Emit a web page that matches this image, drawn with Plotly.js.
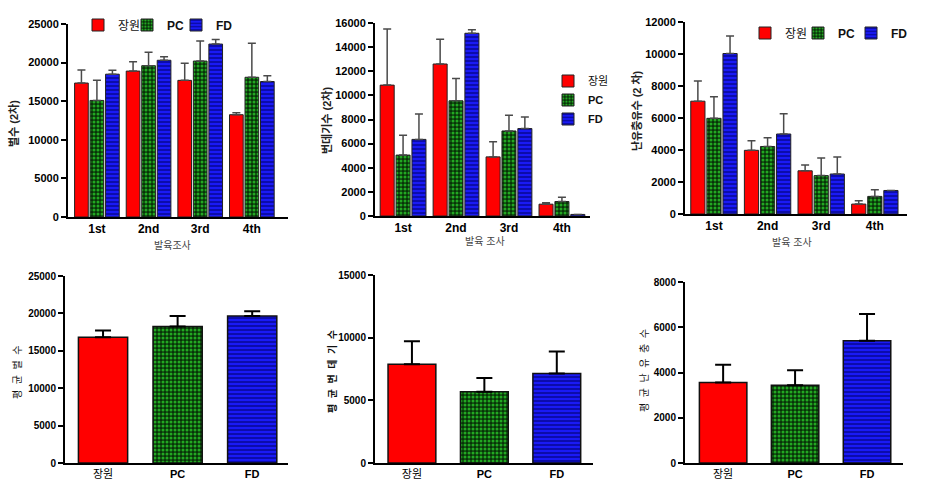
<!DOCTYPE html>
<html>
<head>
<meta charset="utf-8">
<script src="https://cdn.plot.ly/plotly-3.0.1.min.js"></script>
<style>html,body{margin:0;padding:0;background:#fff}#chart{width:940px;height:490px}</style>
</head>
<body>
<div id="chart"></div>
<script>
// ---------- data ----------
const rounds = ['1st', '2nd', '3rd', '4th'];
const groups = ['장원', 'PC', 'FD'];

// 벌수 (2차)
const beesJangwon = [17350, 18900, 17700, 13250];
const beesPC      = [15100, 19600, 20200, 18100];
const beesFD      = [18500, 20300, 22400, 17550];
const beesJangwonSD = [1700, 1200, 2200, 250];
const beesPCSD      = [2600, 1750, 2600, 4400];
const beesFDSD      = [500, 450, 600, 750];

// 번데기수 (2차)
const pupaeJangwon = [10850, 12600, 4900, 980];
const pupaePC      = [5050, 9550, 7050, 1200];
const pupaeFD      = [6350, 15150, 7250, 130];
const pupaeJangwonSD = [4650, 2050, 1250, 120];
const pupaePCSD      = [1650, 1850, 1300, 350];
const pupaeFDSD      = [2100, 300, 950, 0];

// 난유충유수 (2 차)
const broodJangwon = [7050, 3980, 2700, 620];
const broodPC      = [5980, 4220, 2400, 1100];
const broodFD      = [10030, 5000, 2500, 1470];
const broodJangwonSD = [1270, 600, 370, 210];
const broodPCSD      = [1350, 550, 1100, 420];
const broodFDSD      = [1090, 1270, 1060, 0];

// 평균 (장원, PC, FD)
const meanBees   = [16800, 18250, 19650];
const meanBeesSD = [900, 1400, 650];
const meanPupae   = [7870, 5680, 7150];
const meanPupaeSD = [1850, 1100, 1750];
const meanBrood   = [3560, 3440, 5400];
const meanBroodSD = [780, 660, 1190];

// ---------- styles ----------
const FONT = 'Liberation Sans, Arial, Noto Sans CJK KR, sans-serif';
const style = {
  '장원': {color: '#ff0000', pattern: null},
  'PC':   {color: '#0b3d0b', pattern: {shape: '.', bgcolor: '#083208', fgcolor: '#22a822', size: 4, solidity: 0.45}},
  'FD':   {color: '#1515f0', pattern: {shape: '-', bgcolor: '#1a1af5', fgcolor: '#000070', size: 4, solidity: 0.28}}
};
const label = g => g === '장원' ? g : '<b>' + g + '</b>';

const traces = [];
const slot = 0.3, bw = 0.265;
function grouped(series, sds, xa, ya, legendId, spacer) {
  groups.forEach((g, i) => {
    const s = style[g];
    const marker = {color: s.color, line: {color: '#222', width: 1}};
    if (s.pattern) marker.pattern = s.pattern;
    traces.push({
      type: 'bar', x: rounds, y: series[i], name: label(g),
      xaxis: xa, yaxis: ya, legend: legendId, showlegend: true,
      width: bw, offset: (i - 1) * slot - bw / 2,
      marker: marker,
      error_y: {type: 'data', symmetric: false, array: sds[i], arrayminus: sds[i].map(() => 0),
                color: '#4a4a4a', thickness: 1.5, width: 4}
    });
  });
  if (spacer) {
    // invisible legend entry that only widens the legend box so the last label is not clipped
    traces.push({type: 'bar', x: [rounds[0]], y: [0], name: ' ', xaxis: xa, yaxis: ya,
      legend: legendId, showlegend: true, width: 0.001, offset: 0, hoverinfo: 'skip',
      marker: {color: 'rgba(0,0,0,0)', line: {width: 0}}});
  }
}
grouped([beesJangwon, beesPC, beesFD], [beesJangwonSD, beesPCSD, beesFDSD], 'x', 'y', 'legend', true);
grouped([pupaeJangwon, pupaePC, pupaeFD], [pupaeJangwonSD, pupaePCSD, pupaeFDSD], 'x2', 'y2', 'legend2', false);
grouped([broodJangwon, broodPC, broodFD], [broodJangwonSD, broodPCSD, broodFDSD], 'x3', 'y3', 'legend3', true);

function single(vals, sds, xa, ya) {
  groups.forEach((g, i) => {
    const s = style[g];
    const marker = {color: s.color, line: {color: '#111', width: 1.5}};
    if (s.pattern) marker.pattern = s.pattern;
    traces.push({
      type: 'bar', x: [g], y: [vals[i]], xaxis: xa, yaxis: ya, showlegend: false,
      width: 0.66, offset: -0.33, marker: marker,
      error_y: {type: 'data', symmetric: false, array: [sds[i]], arrayminus: [0],
                color: '#000', thickness: 2, width: 8}
    });
  });
}
single(meanBees, meanBeesSD, 'x4', 'y4');
single(meanPupae, meanPupaeSD, 'x5', 'y5');
single(meanBrood, meanBroodSD, 'x6', 'y6');

// ---------- axes ----------
const W = 940, H = 490;
const xd = (a, b) => [a / W, b / W];
const yd = (top, bot) => [1 - bot / H, 1 - top / H];
function xax(dom, range, anchor, cats, ticktext) {
  return {domain: dom, range: range, anchor: anchor, type: 'category',
    categoryorder: 'array', categoryarray: cats,
    showline: true, linecolor: '#000', linewidth: 2, ticks: '', showgrid: false, zeroline: false,
    tickmode: 'array', tickvals: cats, ticktext: ticktext || cats,
    tickfont: {family: FONT, size: ticktext ? 11 : 12, color: '#000', weight: ticktext ? 'normal' : 'bold'}, fixedrange: true};
}
function yax(dom, max, dtick, anchor, fs) {
  return {domain: dom, range: [0, max], anchor: anchor, dtick: dtick, tickformat: 'd',
    showline: true, linecolor: '#000', linewidth: 2, ticks: 'outside', ticklen: 5, tickwidth: 2,
    tickcolor: '#000', showgrid: false, zeroline: false,
    tickfont: {family: FONT, size: fs || 11, color: '#000', weight: 'bold'}, fixedrange: true};
}
const bottomText = groups.map(label);

const ann = [];
function txt(x, y, text, opts) {
  ann.push(Object.assign({xref: 'paper', yref: 'paper', x: x / W, y: 1 - y / H, text: text,
    showarrow: false, xanchor: 'center', yanchor: 'middle',
    font: {family: FONT, size: 11, color: '#222'}}, opts || {}));
}
const yFont = {family: FONT, size: 10, color: '#111'};
txt(14, 124, '<b>벌수 (2차)</b>', {textangle: -90});
txt(327, 121, '<b>번데기수 (2차)</b>', {textangle: -90});
txt(637, 111, '<b>난유충유수 (2 차)</b>', {textangle: -90});
txt(17, 373, '평  균  벌  수', {textangle: -90, font: yFont});
txt(332, 372, '<b>평  균  번  데  기  수</b>', {textangle: -90, font: yFont});
txt(644, 371, '평  균  난  유  충  수', {textangle: -90, font: yFont});
txt(172, 245, '발육조사', {font: {family: FONT, size: 10, color: '#444'}});
txt(485, 241, '발육 조사', {font: {family: FONT, size: 10, color: '#444'}});
txt(792, 243, '발육 조사', {font: {family: FONT, size: 10, color: '#444'}});

const legFont = {family: FONT, size: 12, color: '#111'};
const layout = {
  width: W, height: H, margin: {l: 0, r: 0, t: 0, b: 0, autoexpand: false},
  paper_bgcolor: '#fff', plot_bgcolor: 'rgba(0,0,0,0)',
  barmode: 'group', showlegend: true,
  xaxis:  xax(xd(68, 288), [-0.56, 3.70], 'y', rounds),
  yaxis:  yax(yd(24, 217), 25000, 5000, 'x'),
  xaxis2: xax(xd(375, 590), [-0.53, 3.53], 'y2', rounds),
  yaxis2: yax(yd(23, 216), 16000, 2000, 'x2'),
  xaxis3: xax(xd(685, 907), [-0.54, 3.60], 'y3', rounds),
  yaxis3: yax(yd(22, 214), 12000, 2000, 'x3'),
  xaxis4: xax(xd(65, 288), [-0.51, 2.48], 'y4', groups, bottomText),
  yaxis4: yax(yd(276, 463), 25000, 5000, 'x4', 10),
  xaxis5: xax(xd(375, 593), [-0.51, 2.50], 'y5', groups, bottomText),
  yaxis5: yax(yd(275, 463), 15000, 5000, 'x5', 10),
  xaxis6: xax(xd(685, 903), [-0.53, 2.50], 'y6', groups, bottomText),
  yaxis6: yax(yd(282, 463), 8000, 2000, 'x6', 10),
  legend:  {orientation: 'h', x: 78 / W, y: 1 - 25 / H, xanchor: 'left', yanchor: 'middle',
            font: legFont, bgcolor: 'rgba(0,0,0,0)', entrywidth: 4, entrywidthmode: 'pixels', traceorder: 'normal'},
  legend2: {orientation: 'v', x: 548 / W, y: 1 - 100 / H, xanchor: 'left', yanchor: 'middle',
            font: {family: FONT, size: 11, color: '#111'}, bgcolor: 'rgba(0,0,0,0)', traceorder: 'normal'},
  legend3: {orientation: 'h', x: 745 / W, y: 1 - 33 / H, xanchor: 'left', yanchor: 'middle',
            font: legFont, bgcolor: 'rgba(0,0,0,0)', entrywidth: 8, entrywidthmode: 'pixels', traceorder: 'normal'},
  annotations: ann
};
Plotly.newPlot('chart', traces, layout, {staticPlot: true, displayModeBar: false});
</script>
</body>
</html>
